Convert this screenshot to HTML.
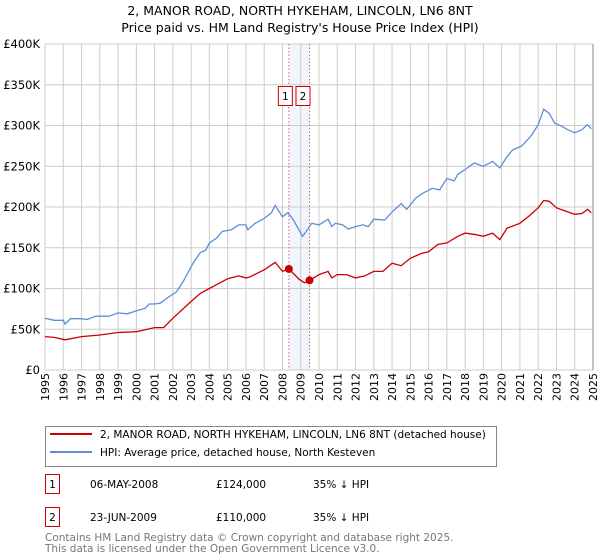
<!DOCTYPE html>
<html><head><meta charset="utf-8"><style>
body{margin:0;background:#fff;font-family:"Liberation Sans","DejaVu Sans",sans-serif;}
#wrap{position:relative;width:600px;height:560px;overflow:hidden;}
</style></head><body><div id="wrap">
<svg id="chart" width="600" height="560" xmlns="http://www.w3.org/2000/svg" font-family="DejaVu Sans, Liberation Sans, sans-serif">
<text x="300" y="15" text-anchor="middle" font-size="12.5">2, MANOR ROAD, NORTH HYKEHAM, LINCOLN, LN6 8NT</text>
<text x="300" y="32" text-anchor="middle" font-size="12.5">Price paid vs. HM Land Registry's House Price Index (HPI)</text>
<g id="grid"></g><g id="axes"></g><g id="series"></g>
<rect x="45.5" y="426.5" width="451" height="40" fill="#fff" stroke="#888"/>
<line x1="50" y1="434" x2="92" y2="434" stroke="#cc0000" stroke-width="2"/>
<text x="100" y="438" font-size="10.5">2, MANOR ROAD, NORTH HYKEHAM, LINCOLN, LN6 8NT (detached house)</text>
<line x1="50" y1="452" x2="92" y2="452" stroke="#5b8fd6" stroke-width="2"/>
<text x="100" y="456" font-size="10.5">HPI: Average price, detached house, North Kesteven</text>
<rect x="45.5" y="474.5" width="14" height="19" fill="#fff" stroke="#cc0000"/>
<text x="52.5" y="488" text-anchor="middle" font-size="10.5">1</text>
<text x="90" y="488" font-size="10.5">06-MAY-2008</text>
<text x="216" y="488" font-size="10.5">£124,000</text>
<text x="313" y="488" font-size="10.5">35% ↓ HPI</text>
<rect x="45.5" y="507.5" width="14" height="19" fill="#fff" stroke="#cc0000"/>
<text x="52.5" y="521" text-anchor="middle" font-size="10.5">2</text>
<text x="90" y="521" font-size="10.5">23-JUN-2009</text>
<text x="216" y="521" font-size="10.5">£110,000</text>
<text x="313" y="521" font-size="10.5">35% ↓ HPI</text>
<text x="45" y="541" font-size="10.5" fill="#777">Contains HM Land Registry data © Crown copyright and database right 2025.</text>
<text x="45" y="552" font-size="10.5" fill="#777">This data is licensed under the Open Government Licence v3.0.</text>
</svg></div>
<script>
const yTicks=[0,50,100,150,200,250,300,350,400];
const yTickLabels=["£0","£50K","£100K","£150K","£200K","£250K","£300K","£350K","£400K"];
const xYears=[1995,1996,1997,1998,1999,2000,2001,2002,2003,2004,2005,2006,2007,2008,2009,2010,2011,2012,2013,2014,2015,2016,2017,2018,2019,2020,2021,2022,2023,2024,2025];
const hpiT=[1995,1995.5,1996,1996.1,1996.4,1997,1997.3,1997.8,1998.5,1999,1999.5,2000,2000.5,2000.7,2001,2001.3,2001.8,2002.2,2002.6,2003.1,2003.5,2003.8,2004,2004.4,2004.7,2005.2,2005.6,2006,2006.1,2006.5,2007,2007.4,2007.6,2008,2008.3,2008.6,2008.9,2009.1,2009.3,2009.6,2010,2010.5,2010.7,2010.9,2011.3,2011.6,2012,2012.4,2012.7,2013,2013.6,2014,2014.5,2014.8,2015.3,2015.7,2016.2,2016.6,2017,2017.4,2017.6,2018,2018.5,2019,2019.5,2019.9,2020.3,2020.6,2021.1,2021.6,2022,2022.3,2022.6,2022.9,2023.3,2023.6,2024,2024.4,2024.7,2024.9];
const hpiV=[63.5,61,61,56.5,63,63,62,66,66,70,69,72.5,76,81,81,82,90,96,110,131,144,147,156,162,170,172,178,178,172,180,186,193,202,188,193,184,172,164,170,180,178,185,176,180,178,173,176,178,176,185,184,194,204,197,211,217,223,221,235,232,240,246,254,250,256,248,262,270,275,287,301,320,315,303,299,295,291,295,301,296];
const ppT=[1995,1995.5,1996.1,1997,1998,1999,2000,2001,2001.5,2002,2003,2003.5,2004,2005,2005.6,2006,2006.2,2007,2007.6,2008,2008.35,2008.9,2009.2,2009.48,2010,2010.5,2010.7,2011,2011.5,2012,2012.5,2013,2013.5,2014,2014.5,2015,2015.6,2016,2016.5,2017,2017.6,2018,2018.6,2019,2019.5,2019.9,2020.3,2021,2021.5,2022,2022.3,2022.6,2023,2023.5,2024,2024.4,2024.7,2024.9];
const ppV=[41,40,37,41,43,46,47,52,52,63.5,84,94,100,112,115.5,113,114,123,132,121,124,111.5,107,110,117,121,113,117,117,113,115.5,121,121,131,128,137,143,145,154,156,164,168,166,164,168,160,174,180,189,199,208,207,199,195,191,192,197,193];
const saleT=[2008.35,2009.48];
const saleV=[124,110];
const saleLabels=["1","2"];
const NS="http://www.w3.org/2000/svg";
const X0=45,X1=593,Y0=370,Y1=44;
function xs(t){return X0+(t-1995)/30*(X1-X0);}
function ys(v){return Y0-v/400*(Y0-Y1);}
function mk(tag,attrs,parent){const e=document.createElementNS(NS,tag);for(const k in attrs)e.setAttribute(k,attrs[k]);parent.appendChild(e);return e;}
const grid=document.getElementById('grid'),axes=document.getElementById('axes'),ser=document.getElementById('series');
let band=mk('rect',{x:xs(saleT[0]),y:Y1,width:xs(saleT[1])-xs(saleT[0]),height:Y0-Y1,fill:'#f1f5fd'},grid);


xYears.forEach(yr=>{
 let l=mk('line',{x1:xs(yr),x2:xs(yr),y1:Y1,y2:Y0,stroke:'#cccccc','stroke-width':1},grid);
 
 
 let t=mk('text',{transform:`translate(${xs(yr)+4},${Y0+31}) rotate(-90)`,'font-size':11},axes);
 t.textContent=yr;
 
 
});
yTicks.forEach((v,i)=>{
 let l=mk('line',{x1:X0,x2:X1,y1:ys(v),y2:ys(v),stroke:'#cccccc','stroke-width':1},grid);
 
 
 let t=mk('text',{x:X0-5,y:ys(v)+4,'text-anchor':'end','font-size':11.5},axes);
 t.textContent=yTickLabels[i];
 
 
});
let rb=mk('line',{x1:X1,x2:X1,y1:Y1,y2:Y0,stroke:'#888','stroke-width':1},axes);


saleT.forEach((t,i)=>{
 let l=mk('line',{x1:xs(t),x2:xs(t),y1:Y1,y2:Y0,stroke:'#e06060','stroke-width':1,'stroke-dasharray':'1.5,2'},grid);
 
 
 let bx=i===0?xs(t)-10:xs(t)-13;
 let r=mk('rect',{x:bx-0.5,y:86.5,width:14,height:19,fill:'#fff',stroke:'#cc0000'},axes);
 
 
 let tx=mk('text',{x:bx+6.5,y:100,'text-anchor':'middle','font-size':10.5},axes);
 tx.textContent=saleLabels[i];
 
 
});
function path(T,V){return T.map((t,i)=>(i?'L':'M')+xs(t).toFixed(1)+','+ys(V[i]).toFixed(1)).join('');}
let hp=mk('path',{d:path(hpiT,hpiV),fill:'none',stroke:'#5b8fd6','stroke-width':1.3},ser);


let pp=mk('path',{d:path(ppT,ppV),fill:'none',stroke:'#cc0000','stroke-width':1.3},ser);


saleT.forEach((t,i)=>{
 let c=mk('circle',{cx:xs(t),cy:ys(saleV[i]),r:4,fill:'#cc0000'},ser);
 
 
});
</script></body></html>
